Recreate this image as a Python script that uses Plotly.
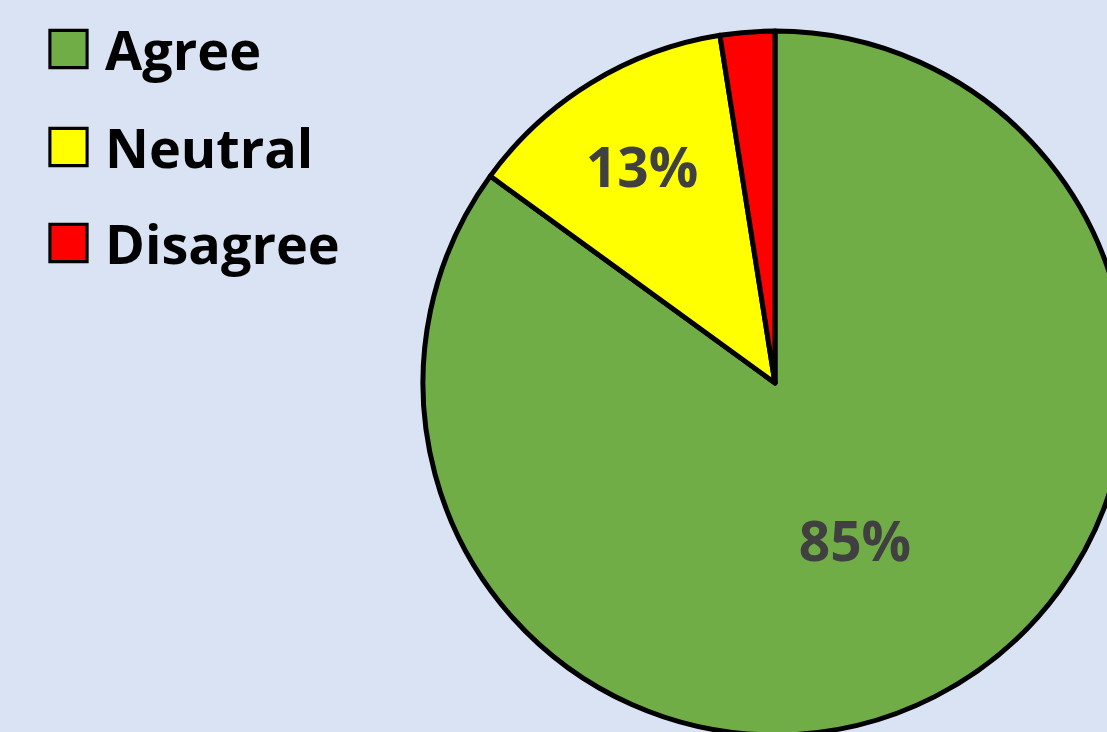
import plotly.graph_objects as go

# ---- data ----
categories = ["Agree", "Neutral", "Disagree"]
shares = [85, 12.5, 2.5]
slice_colors = ["#70AD47", "#FFFF00", "#FF0000"]
label_templates = ["%{percent:.0%}", "%{percent:.0%}", ""]

BG = "#DAE3F3"
W, H = 1200, 800  # larger than the viewport so the pie runs off the edge like the reference

fig = go.Figure(
    go.Pie(
        labels=categories,
        values=shares,
        sort=False,
        direction="clockwise",
        rotation=0,
        marker=dict(colors=slice_colors, line=dict(color="#000000", width=5)),
        texttemplate=label_templates,
        textposition="inside",
        insidetextorientation="horizontal",
        textfont=dict(family="Open Sans", size=55, color="#404040", weight="bold"),
        domain=dict(x=[423 / W, 1127 / W], y=[(H - 735) / H, (H - 31) / H]),
        hoverinfo="label+percent",
    )
)

fig.update_layout(
    width=W,
    height=H,
    margin=dict(l=0, r=0, t=0, b=0),
    paper_bgcolor=BG,
    plot_bgcolor=BG,
    showlegend=True,
    legend=dict(
        x=0, y=1, xanchor="left", yanchor="top",
        bgcolor="rgba(0,0,0,0)",
        font=dict(family="Open Sans", size=54, color="#000000", weight="bold"),
    ),
)

post = """
var gd = document.getElementById('{plot_id}');
document.documentElement.style.overflow = 'hidden';
document.body.style.overflow = 'hidden';
document.body.style.margin = '0';
function fixLegend() {
  var lg = gd.querySelector('.legend');
  if (!lg) return;
  lg.setAttribute('transform', 'translate(0,0)');
  var sb = lg.querySelector('.scrollbox');
  if (sb) { sb.removeAttribute('clip-path'); sb.setAttribute('transform', 'translate(0,0)'); }
  var ys = [49, 147, 243];
  lg.querySelectorAll('.traces').forEach(function (t, i) {
    t.setAttribute('transform', 'translate(0,' + ys[i] + ')');
    var p = t.querySelector('path.legendpie');
    if (p) { p.setAttribute('transform', 'translate(68.5,0) scale(3.1)'); p.style.strokeWidth = '1'; }
    var tx = t.querySelector('text.legendtext');
    if (tx) { tx.setAttribute('x', '105'); }
  });
  var bg = lg.querySelector('rect.bg');
  if (bg) bg.style.display = 'none';
}
fixLegend();
gd.on('plotly_afterplot', fixLegend);
"""

fig.write_html("out.html", post_script=post, config={"displayModeBar": False})
